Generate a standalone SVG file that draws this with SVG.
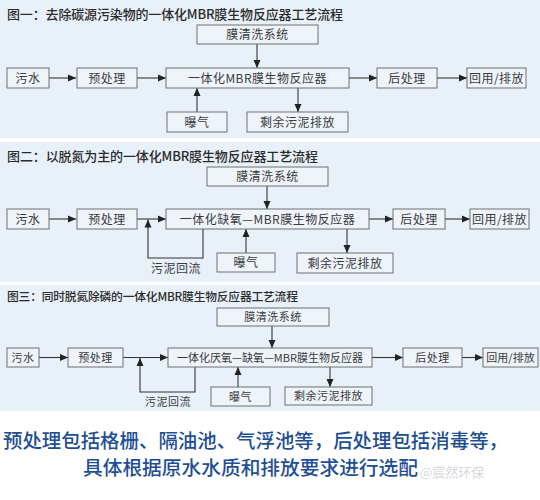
<svg xmlns="http://www.w3.org/2000/svg" width="540" height="500" viewBox="0 0 540 500">
<style>
.bg{fill:#e8f1f9}
.box{fill:#eef4fa;stroke:#707070;stroke-width:1}
.t{font-family:"Noto Sans CJK SC","Noto Sans",sans-serif;fill:#3a3a3a;text-anchor:middle;font-size:12px;letter-spacing:0.5px}
.t3{font-size:11px}
.ttl{font-family:"Noto Sans CJK SC","Noto Sans",sans-serif;fill:#2b2b2b;font-size:13px;font-weight:500}
.ln{fill:none;stroke:#333;stroke-width:1.1}
.note{font-family:"Noto Sans CJK SC","Noto Sans",sans-serif;fill:#1f4f93;font-size:19.5px;text-anchor:middle;font-weight:500}
.wm{font-family:"Noto Sans CJK SC","Noto Sans",sans-serif;fill:#d4d8de;font-size:13px}
</style>
<defs>
<marker id="ah" viewBox="0 0 8 8" refX="8" refY="4" markerWidth="8" markerHeight="8" markerUnits="userSpaceOnUse" orient="auto">
<path d="M0,0.5 L8,4 L0,7.5 Z" fill="#222"/>
</marker>
</defs>
<rect width="540" height="500" fill="#fff"/>
<rect class="bg" x="0" y="0" width="540" height="138"/>
<rect class="bg" x="0" y="142" width="540" height="140"/>
<rect class="bg" x="0" y="285" width="540" height="126"/>

<text class="ttl" x="7" y="18.5" textLength="336" lengthAdjust="spacing">图一：去除碳源污染物的一体化MBR膜生物反应器工艺流程</text>
<text class="ttl" x="7" y="160.5" textLength="311" lengthAdjust="spacing">图二：以脱氮为主的一体化MBR膜生物反应器工艺流程</text>
<text class="ttl" x="7" y="301" style="font-size:11.8px" textLength="291" lengthAdjust="spacing">图三：同时脱氮除磷的一体化MBR膜生物反应器工艺流程</text>

<g id="connectors">
<!-- panel 1 -->
<line class="ln" x1="49" y1="78" x2="76" y2="78" marker-end="url(#ah)"/>
<line class="ln" x1="137" y1="78" x2="166" y2="78" marker-end="url(#ah)"/>
<line class="ln" x1="257" y1="44" x2="257" y2="68" marker-end="url(#ah)"/>
<line class="ln" x1="197" y1="112" x2="197" y2="88" marker-end="url(#ah)"/>
<line class="ln" x1="298" y1="88" x2="298" y2="112" marker-end="url(#ah)"/>
<line class="ln" x1="349" y1="78" x2="377" y2="78" marker-end="url(#ah)"/>
<line class="ln" x1="437" y1="78" x2="467" y2="78" marker-end="url(#ah)"/>
<!-- panel 2 -->
<line class="ln" x1="49" y1="219" x2="76" y2="219" marker-end="url(#ah)"/>
<line class="ln" x1="137" y1="219" x2="166" y2="219" marker-end="url(#ah)"/>
<polyline class="ln" points="203,229 203,258 148,258 148,219.5" marker-end="url(#ah)"/>
<line class="ln" x1="267" y1="186" x2="267" y2="209" marker-end="url(#ah)"/>
<line class="ln" x1="246" y1="253" x2="246" y2="229" marker-end="url(#ah)"/>
<line class="ln" x1="347" y1="229" x2="347" y2="253" marker-end="url(#ah)"/>
<line class="ln" x1="369" y1="219" x2="393" y2="219" marker-end="url(#ah)"/>
<line class="ln" x1="445" y1="219" x2="470" y2="219" marker-end="url(#ah)"/>
<!-- panel 3 -->
<line class="ln" x1="39" y1="357.5" x2="68" y2="357.5" marker-end="url(#ah)"/>
<line class="ln" x1="123" y1="357.5" x2="168" y2="357.5" marker-end="url(#ah)"/>
<polyline class="ln" points="195,367 195,392 140,392 140,358" marker-end="url(#ah)"/>
<line class="ln" x1="272" y1="326" x2="272" y2="348" marker-end="url(#ah)"/>
<line class="ln" x1="238" y1="387" x2="238" y2="367" marker-end="url(#ah)"/>
<line class="ln" x1="330" y1="367" x2="330" y2="387" marker-end="url(#ah)"/>
<line class="ln" x1="372" y1="357.5" x2="403" y2="357.5" marker-end="url(#ah)"/>
<line class="ln" x1="462" y1="357.5" x2="483" y2="357.5" marker-end="url(#ah)"/>
</g>

<!-- panel 1 nodes -->
<g id="p1-clean"><rect class="box" x="197" y="25" width="121" height="19"/><text class="t" x="257.5" y="39">膜清洗系统</text></g>
<g id="p1-sewage"><rect class="box" x="7" y="68" width="42" height="20"/><text class="t" x="28" y="82.5">污水</text></g>
<g id="p1-pre"><rect class="box" x="77" y="68" width="60" height="20"/><text class="t" x="107" y="82.5">预处理</text></g>
<g id="p1-mbr"><rect class="box" x="166" y="68" width="183" height="20"/><text class="t" x="257.5" y="82.5">一体化MBR膜生物反应器</text></g>
<g id="p1-post"><rect class="box" x="377" y="68" width="60" height="20"/><text class="t" x="407" y="82.5">后处理</text></g>
<g id="p1-reuse"><rect class="box" x="467" y="68" width="59" height="20"/><text class="t" x="496.5" y="82.5">回用/排放</text></g>
<g id="p1-air"><rect class="box" x="167" y="112" width="60" height="20"/><text class="t" x="197" y="126.5">曝气</text></g>
<g id="p1-sludge"><rect class="box" x="247" y="112" width="101" height="20"/><text class="t" x="297.5" y="126.5">剩余污泥排放</text></g>

<!-- panel 2 nodes -->
<g id="p2-clean"><rect class="box" x="207" y="167" width="121" height="19"/><text class="t" x="267.5" y="181">膜清洗系统</text></g>
<g id="p2-sewage"><rect class="box" x="7" y="209" width="42" height="20"/><text class="t" x="28" y="223.5">污水</text></g>
<g id="p2-pre"><rect class="box" x="77" y="209" width="60" height="20"/><text class="t" x="107" y="223.5">预处理</text></g>
<g id="p2-mbr"><rect class="box" x="166" y="209" width="203" height="20"/><text class="t" x="267.5" y="223.5">一体化缺氧—MBR膜生物反应器</text></g>
<g id="p2-post"><rect class="box" x="393" y="209" width="52" height="20"/><text class="t" x="419" y="223.5">后处理</text></g>
<g id="p2-reuse"><rect class="box" x="470" y="209" width="59" height="20"/><text class="t" x="499.5" y="223.5">回用/排放</text></g>
<g id="p2-air"><rect class="box" x="217" y="253" width="58" height="19"/><text class="t" x="246" y="267">曝气</text></g>
<g id="p2-sludge"><rect class="box" x="297" y="253" width="96" height="20"/><text class="t" x="345" y="267.5">剩余污泥排放</text></g>
<g id="p2-return"><text class="t" x="176" y="273">污泥回流</text></g>

<!-- panel 3 nodes -->
<g id="p3-clean"><rect class="box" x="217" y="308" width="112" height="18"/><text class="t t3" x="273" y="321">膜清洗系统</text></g>
<g id="p3-sewage"><rect class="box" x="7" y="348" width="32" height="19"/><text class="t t3" x="23" y="361.5">污水</text></g>
<g id="p3-pre"><rect class="box" x="68" y="348" width="55" height="19"/><text class="t t3" x="95.5" y="361.5">预处理</text></g>
<g id="p3-mbr"><rect class="box" x="168" y="348" width="204" height="19"/><text class="t t3" x="270" y="361.5" style="letter-spacing:0">一体化厌氧—缺氧—MBR膜生物反应器</text></g>
<g id="p3-post"><rect class="box" x="403" y="348" width="59" height="19"/><text class="t t3" x="432.5" y="361.5">后处理</text></g>
<g id="p3-reuse"><rect class="box" x="483" y="348" width="55" height="19"/><text class="t t3" x="510.5" y="361.5" style="letter-spacing:0">回用/排放</text></g>
<g id="p3-air"><rect class="box" x="211" y="387" width="59" height="19"/><text class="t t3" x="240.5" y="400.5">曝气</text></g>
<g id="p3-sludge"><rect class="box" x="285" y="387" width="87" height="18"/><text class="t t3" x="328.5" y="400">剩余污泥排放</text></g>
<g id="p3-return"><text class="t t3" x="168" y="406">污泥回流</text></g>

<text class="note" x="255.5" y="448" textLength="505" lengthAdjust="spacingAndGlyphs">预处理包括格栅、隔油池、气浮池等，后处理包括消毒等，</text>
<text class="note" x="250.5" y="475" textLength="335" lengthAdjust="spacingAndGlyphs">具体根据原水水质和排放要求进行选配</text>
<text class="wm" x="420" y="477">@宸然环保</text>
</svg>
